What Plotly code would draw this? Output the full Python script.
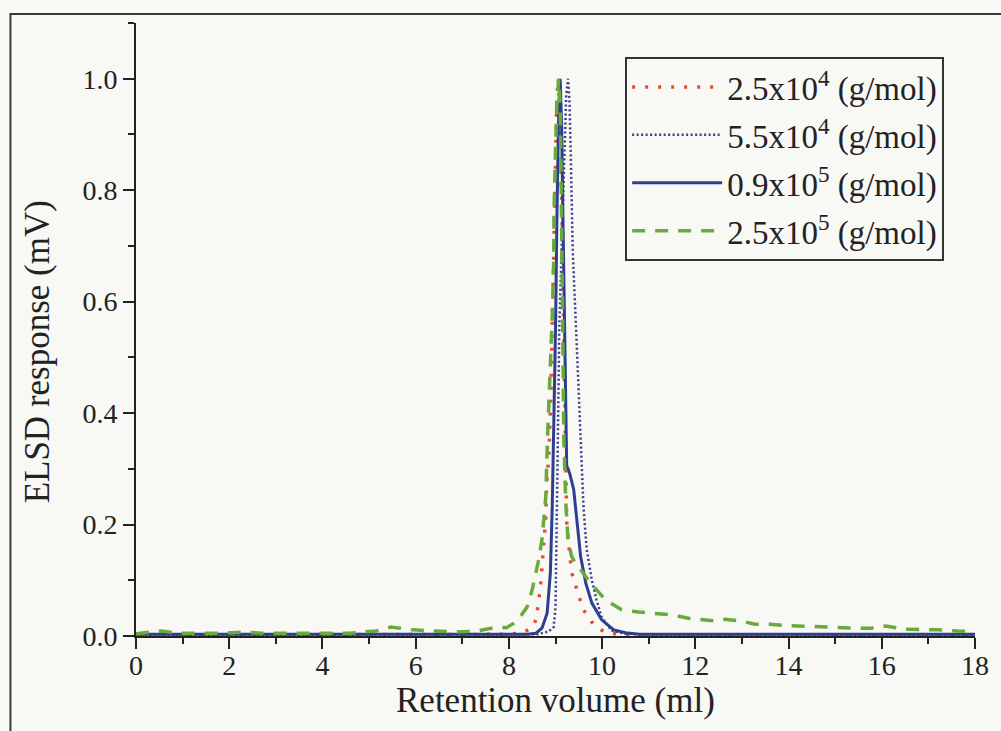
import plotly.graph_objects as go

# ---------------- data ----------------
names = ["2.5x10<sup>4</sup> (g/mol)", "5.5x10<sup>4</sup> (g/mol)",
         "0.9x10<sup>5</sup> (g/mol)", "2.5x10<sup>5</sup> (g/mol)"]
x_title = "Retention volume (ml)"
y_title = "ELSD response (mV)"

x_25e4 = [0, 2, 4, 6, 8, 8.3, 8.5, 8.58, 8.64, 8.68, 8.71, 8.76, 8.79, 8.81, 8.86, 8.9,
          8.93, 8.96, 8.98, 9.0, 9.03, 9.06, 9.1, 9.14, 9.17, 9.2, 9.22, 9.24, 9.3, 9.35,
          9.48, 9.6, 9.82, 10.0, 10.18, 10.5, 12, 14, 16, 18]
y_25e4 = [0.002, 0.002, 0.002, 0.002, 0.003, 0.006, 0.015, 0.029, 0.059, 0.088, 0.124, 0.17,
          0.21, 0.27, 0.33, 0.43, 0.545, 0.69, 0.78, 0.86, 0.97, 1.0, 0.93, 0.75, 0.55, 0.37,
          0.263, 0.205, 0.15, 0.113, 0.077, 0.047, 0.02, 0.01, 0.005, 0.002, 0.001, 0.001,
          0.001, 0.001]

x_55e4 = [0, 4, 8, 8.6, 8.85, 8.96, 9.0, 9.03, 9.05, 9.08, 9.13, 9.18, 9.23, 9.27, 9.3,
          9.33, 9.37, 9.46, 9.54, 9.6, 9.67, 9.78, 9.88, 9.99, 10.2, 10.5, 11, 12, 14, 18]
y_55e4 = [0.002, 0.002, 0.002, 0.003, 0.008, 0.016, 0.05, 0.2, 0.35, 0.55, 0.7, 0.85, 0.97,
          1.0, 0.96, 0.856, 0.69, 0.514, 0.345, 0.232, 0.155, 0.1, 0.065, 0.034, 0.01, 0.004,
          0.002, 0.002, 0.002, 0.002]

x_09e5 = [0, 4, 8, 8.4, 8.58, 8.71, 8.82, 8.89, 8.93, 8.96, 9.0, 9.03, 9.07, 9.1, 9.13,
          9.16, 9.19, 9.22, 9.24, 9.27, 9.31, 9.39, 9.46, 9.54, 9.65, 9.78, 9.99, 10.25,
          10.5, 10.8, 12, 14, 18]
y_09e5 = [0.003, 0.003, 0.003, 0.003, 0.005, 0.014, 0.041, 0.113, 0.232, 0.353, 0.55, 0.75,
          0.95, 1.0, 0.92, 0.75, 0.55, 0.38, 0.305, 0.30, 0.29, 0.263, 0.203, 0.142, 0.095,
          0.059, 0.029, 0.011, 0.006, 0.003, 0.003, 0.003, 0.003]

x_25e5 = [0.0, 0.15, 0.55, 0.9, 1.41, 1.84, 2.29, 2.72, 3.29, 3.72, 4.21, 4.58, 5.15, 5.47,
          5.93, 6.4, 6.87, 7.32, 7.75, 7.95, 8.11, 8.25, 8.39, 8.5, 8.58, 8.64, 8.71, 8.79,
          8.83, 8.86, 8.9, 8.93, 8.96, 8.97, 9.0, 9.03, 9.07, 9.1, 9.13, 9.15, 9.18, 9.22,
          9.27, 9.35, 9.45, 9.54, 9.75, 10.07, 10.42, 10.78, 11.14, 11.5, 11.85, 12.21,
          12.43, 12.64, 12.98, 13.28, 13.6, 13.93, 14.25, 14.78, 15.06, 15.49, 15.77, 16.09,
          16.49, 16.83, 17.2, 17.63, 17.84, 18.0]
y_25e5 = [0.004, 0.005, 0.009, 0.005, 0.005, 0.005, 0.007, 0.005, 0.005, 0.005, 0.005,
          0.005, 0.009, 0.016, 0.011, 0.009, 0.007, 0.009, 0.016, 0.015, 0.023, 0.035,
          0.052, 0.083, 0.113, 0.137, 0.173, 0.248, 0.358, 0.42, 0.514, 0.574, 0.67, 0.77,
          0.87, 0.96, 1.0, 0.95, 0.75, 0.55, 0.35, 0.24, 0.17, 0.142, 0.128, 0.119, 0.095,
          0.065, 0.047, 0.043, 0.041, 0.038, 0.032, 0.029, 0.027, 0.03, 0.027, 0.021, 0.021,
          0.019, 0.018, 0.016, 0.014, 0.014, 0.014, 0.018, 0.012, 0.012, 0.011, 0.009,
          0.009, 0.008]

x_ticks = list(range(0, 19, 2))
y_ticks = [0.0, 0.2, 0.4, 0.6, 0.8, 1.0]

# ---------------- styling ----------------
FONT = "Liberation Serif, Times New Roman, Times, serif"
BG = "#f8f8f5"
AX = "#222222"
TXT = "#222222"

series = [
    (x_25e4, y_25e4, names[0], dict(color="#e64b30", width=3.5, dash="3px,10px")),
    (x_55e4, y_55e4, names[1], dict(color="#3b3a8e", width=2.5, dash="2px,2.5px")),
    (x_09e5, y_09e5, names[2], dict(color="#2c3f8e", width=3)),
    (x_25e5, y_25e5, names[3], dict(color="#6aa93c", width=3.5, dash="13px,10px")),
]

fig = go.Figure()
for i, (xs, ys, nm, ln) in enumerate(series):
    fig.add_trace(go.Scatter(x=xs, y=ys, mode="lines", name=nm, line=ln,
                             legendgroup=f"g{i}"))

fig.update_layout(
    width=1001, height=731,
    margin=dict(l=136, r=23, t=23, b=95),
    paper_bgcolor=BG, plot_bgcolor=BG,
    font=dict(family=FONT, size=28, color=TXT),
    showlegend=True,
    legend=dict(x=0.583, y=0.9445, xanchor="left", yanchor="top",
                bgcolor="rgba(0,0,0,0)", bordercolor="#333", borderwidth=2,
                font=dict(family=FONT, size=33, color=TXT),
                itemwidth=90, tracegroupgap=2),
)

fig.update_xaxes(
    range=[0, 18], tickvals=x_ticks, ticks="outside", ticklen=11, tickwidth=2,
    tickcolor=AX, showline=True, linecolor=AX, linewidth=2, showgrid=False,
    zeroline=False, tickfont=dict(family=FONT, size=28), ticklabelstandoff=-8,
    minor=dict(dtick=1, ticks="outside", ticklen=6, tickwidth=2, tickcolor=AX),
)
fig.update_yaxes(
    range=[0, 1.1], tickvals=y_ticks, tickformat=".1f", ticks="outside", ticklen=11,
    tickwidth=2, tickcolor=AX, showline=True, linecolor=AX, linewidth=2, showgrid=False,
    zeroline=False, tickfont=dict(family=FONT, size=28),
    minor=dict(dtick=0.1, tick0=0, ticks="outside", ticklen=6, tickwidth=2, tickcolor=AX),
)

# axis titles placed as annotations for exact positioning
fig.add_annotation(text=x_title, xref="paper", yref="paper", x=0.5, y=(636 - 701) / 613,
                   xanchor="center", yanchor="middle", showarrow=False,
                   font=dict(family=FONT, size=35, color=TXT))
fig.add_annotation(text=y_title, xref="paper", yref="paper", x=(37 - 136) / 842,
                   y=(636 - 352) / 613, xanchor="center", yanchor="middle", textangle=-90,
                   showarrow=False, font=dict(family=FONT, size=35, color=TXT))

# outer frame of the figure
fig.add_shape(type="rect", xref="paper", yref="paper",
              x0=(10 - 136) / 842, x1=(1010 - 136) / 842,
              y0=(636 - 740) / 613, y1=(636 - 14) / 613,
              line=dict(color="#3a3a3a", width=2), fillcolor="rgba(0,0,0,0)", layer="below")

fig.write_html("out.html")
